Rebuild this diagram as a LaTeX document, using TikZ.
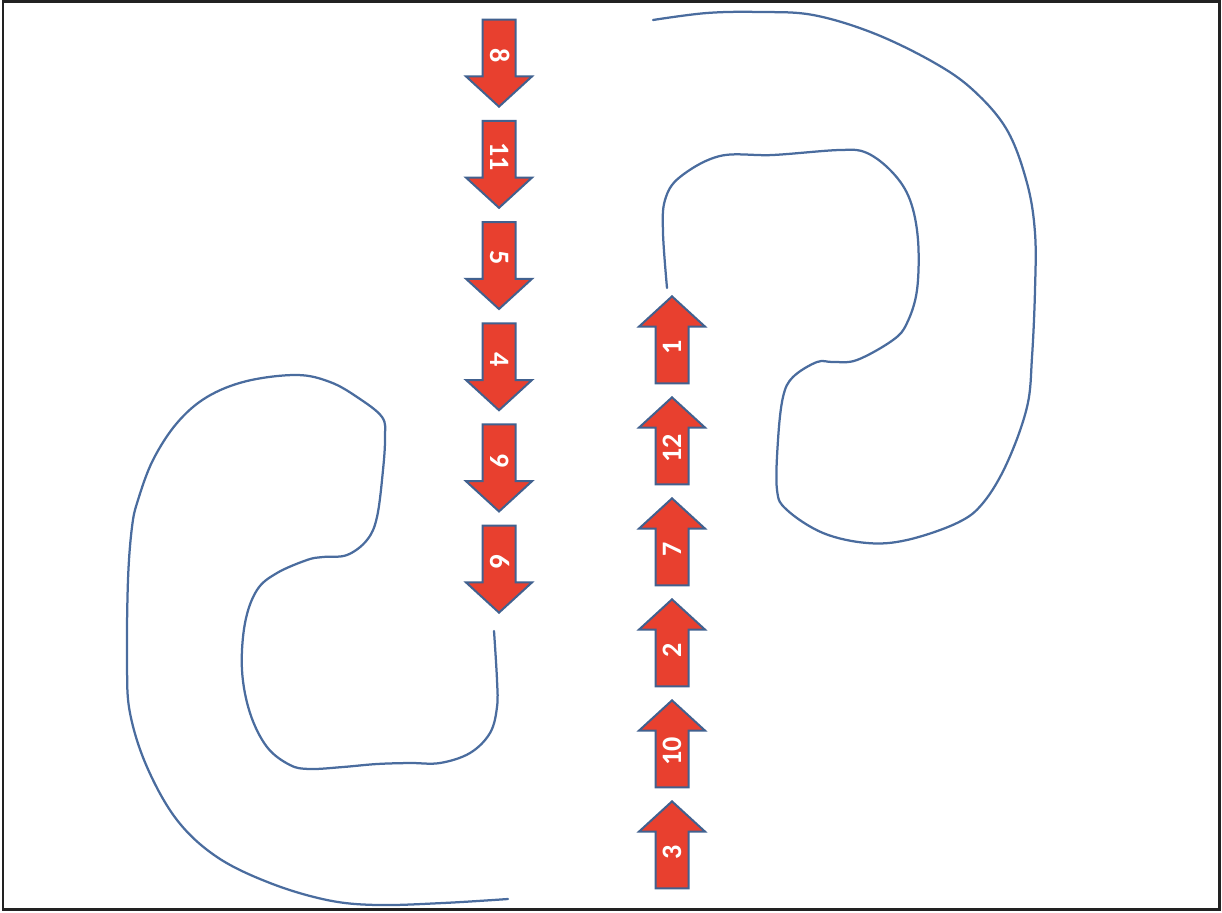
\documentclass[tikz,border=0pt]{standalone}
\usepackage{fontspec}
\usetikzlibrary{shapes.arrows}
\newfontfamily\numfont{Carlito}
\definecolor{ArrowRed}{HTML}{E8402F}
\definecolor{ArrowEdge}{HTML}{41618F}
\definecolor{Path}{HTML}{4A6C9E}
\definecolor{Frame}{HTML}{222222}
\tikzset{
  flowarrow/.style={single arrow,draw=ArrowEdge,fill=ArrowRed,line width=.04cm,
    single arrow head extend=.33cm,single arrow tip angle=95,minimum height=1.74cm,
    text height=.36cm,text depth=0pt,inner ysep=.13cm,inner xsep=.1cm,
    text=white,font=\numfont\bfseries\fontsize{16}{16}\selectfont},
  downarrow/.style={flowarrow,rotate=-90,anchor=tip},
  uparrow/.style={flowarrow,rotate=90,anchor=tip},
  track/.style={draw=Path,line width=.045cm,line cap=round}
}
\begin{document}
\begin{tikzpicture}[x=.02cm,y=-.02cm]
\useasboundingbox (0,0) rectangle (1222,912);
\draw[Frame,line width=.06cm] (3,2) rectangle (1219,909);

% arrows going down
\foreach \lab [count=\i] in {8,11,5,4,9,6}
  \node[downarrow] (dn\lab) at (499,{108+101.2*(\i-1)}) {\lab};
% arrows going up
\foreach \lab [count=\i] in {1,12,7,2,10,3}
  \node[uparrow] (up\lab) at (672,{295+101*(\i-1)}) {\lab};

% left track
\draw[track] plot[smooth,tension=.6] coordinates {
  (494,631) (497,680) (497,707) (490,733) (470,753) (440,763) (410,763)
  (377,764) (343,767) (310,769) (290,765) (267,747) (250,713) (242,670)
  (245,623) (257,590) (277,573) (307,560) (323,557) (347,555) (367,540)
  (377,517) (383,470) (385,437) (382,417) (357,397) (330,382) (297,375)
  (247,381) (207,397) (177,423) (153,460) (138,500) (132,527) (128,580)
  (127,663) (130,713) (147,767) (177,820) (217,857) (270,883) (327,900)
  (377,905) (443,903) (508,899)};
% right track
\draw[track] plot[smooth,tension=.6] coordinates {
  (667,288) (663,233) (665,200) (680,177) (720,156) (773,155) (840,150)
  (867,153) (893,173) (910,200) (918,240) (917,290) (907,323) (893,340)
  (857,360) (833,362) (817,362) (793,377) (783,397) (778,440) (777,490)
  (787,510) (823,533) (867,543) (907,540) (957,523) (983,503) (1007,463)
  (1027,407) (1032,357) (1035,290) (1035,233) (1027,183) (1007,130)
  (973,90) (933,62) (873,33) (813,15) (760,12) (707,13) (653,20)};
\end{tikzpicture}
\end{document}
